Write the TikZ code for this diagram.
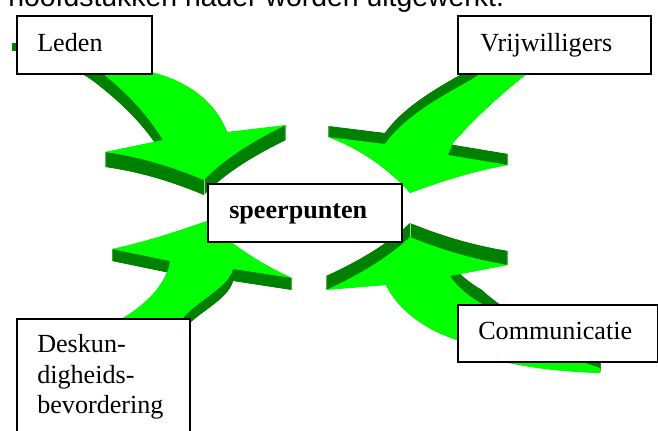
\documentclass[tikz,border=0pt]{standalone}
\usepackage{fontspec}
\setmainfont{Liberation Serif}
\newfontfamily\arialfont{Liberation Sans}
\definecolor{lgreen}{RGB}{0,255,0}
\definecolor{dgreen}{RGB}{0,128,0}
\definecolor{tipline}{RGB}{150,215,150}
\def\arrLeden{(17,22) .. controls (80,22) and (125,50) .. (151,72) .. controls (185,80) and (215,100) .. (227,132) -- (286,125) .. controls (255,140) and (225,158) .. (204,180) .. controls (170,166) and (140,157) .. (105,152) -- (163,140) .. controls (147,114) and (126,92) .. (102,73) .. controls (75,50) and (45,42) .. (17,42) -- cycle}
\def\arrDesk{(183,318) .. controls (198,300) and (228,288) .. (233,269) -- (292,278) .. controls (259,263) and (229,243) .. (207,221) .. controls (175,232) and (145,242) .. (112,249) -- (170,261) .. controls (168,280) and (150,302) .. (123,318) .. controls (100,345) and (95,380) .. (100,420) -- (150,420) .. controls (150,370) and (165,335) .. (183,318) -- cycle}
\def\arrVrij{(481,73) .. controls (468,84) and (410,108) .. (385,144) -- (328,137) .. controls (358,148) and (388,168) .. (410,193) .. controls (440,182) and (470,172) .. (508,165) -- (448,155) -- (453,143) .. controls (475,118) and (500,95) .. (528,73) .. controls (550,58) and (575,45) .. (610,40) -- (610,60) .. controls (560,62) and (510,62) .. (481,73) -- cycle}
\def\arrComm{(410,237) .. controls (388,258) and (357,276) .. (326,290) -- (386,285) .. controls (398,310) and (425,330) .. (457,340) .. controls (480,350) and (495,358) .. (505,362) .. controls (525,367) and (560,372) .. (600,373) -- (600,368) .. controls (560,355) and (510,330) .. (482,304) .. controls (470,297) and (457,287) .. (450,276) -- (508,265) .. controls (472,259) and (442,250) .. (410,237) -- cycle}
\begin{document}
\begin{tikzpicture}[x=0.75pt,y=-0.75pt,
  box/.style={draw=black,line width=1.3pt,fill=white,inner sep=0pt,anchor=north west,rectangle},
  lbl/.style={inner sep=0pt,anchor=base west,font=\fontsize{19.6pt}{23pt}\selectfont},
  heading/.style={inner sep=0pt,anchor=base west,font=\arialfont\fontsize{21.3pt}{25pt}\selectfont},
  front/.style={fill=lgreen},
  side/.style={fill=dgreen},
  tipedge/.style={draw=tipline,line width=0.6pt}]
\useasboundingbox (0,0) rectangle (658,430);
\clip (0,0) rectangle (658,430);
\fill[white] (0,0) rectangle (658,430);
% heading (cut at the top, as in the original)
\node[heading] (head) at (8,6.5) {hoofdstukken nader worden uitgewerkt.};
% Leden arrow
\foreach \i in {1,...,40} { \path[side,shift={(0,15*\i/40)}] \arrLeden; }
\path[front] \arrLeden;
\fill[side] (12,43) rectangle (16.5,51);
\coordinate (tipL) at (204,180);
\coordinate (tipLb) at (204,195);
\draw[tipedge] (tipL) -- (tipLb);
% Deskundigheid arrow
\foreach \i in {1,...,40} { \path[side,shift={(0,12*\i/40)}] \arrDesk; }
\path[front] \arrDesk;
% Vrijwilligers arrow
\foreach \i in {1,...,40} { \path[side,shift={(0,-11*\i/40)}] \arrVrij; }
\path[front] \arrVrij;
% Communicatie arrow
\foreach \i in {1,...,40} { \path[side,shift={(0,-14*\i/40)}] \arrComm; }
\path[front] \arrComm;
\coordinate (tipC) at (410,237);
\coordinate (tipCb) at (410,223);
\draw[tipedge] (tipC) -- (tipCb);
% boxes
\node[box,minimum width=101.25pt,minimum height=43.5pt] (bLeden) at (16,15) {};
\node[box,minimum width=144.75pt,minimum height=43.5pt] (bVrij) at (457,15) {};
\node[box,minimum width=145.5pt,minimum height=43.5pt] (bSpeer) at (207,183) {};
\node[box,minimum width=150pt,minimum height=42.75pt] (bComm) at (457,304) {};
\node[box,minimum width=129.75pt,minimum height=95.25pt] (bDesk) at (16,318) {};
% labels
\node[lbl] (tLeden) at (37,51) {Leden};
\node[lbl] (tVrij) at (480,51) {Vrijwilligers};
\node[lbl,font=\bfseries\fontsize{19.6pt}{23pt}\selectfont] (tSpeer) at (229,218) {speerpunten};
\node[lbl] (tComm) at (478,339) {Communicatie};
\node[lbl] (tDesk1) at (37,352) {Deskun-};
\node[lbl] (tDesk2) at (37,383) {digheids-};
\node[lbl] (tDesk3) at (37,413) {bevordering};
\end{tikzpicture}
\end{document}
